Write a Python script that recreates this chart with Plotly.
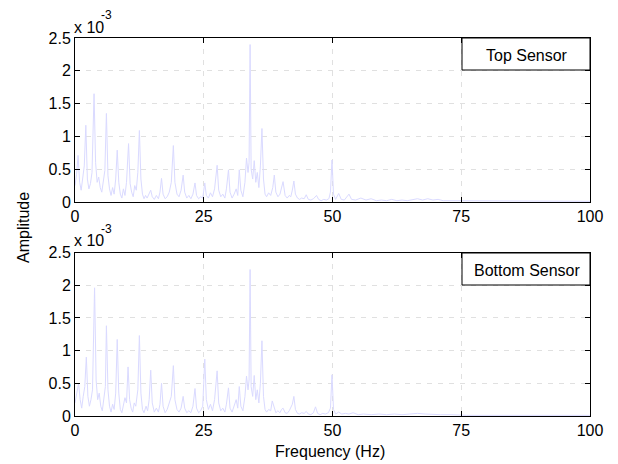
import plotly.graph_objects as go

# ---------------- data (amplitudes in units of 1e-3) ----------------
f_top = [0.0, 0.3, 0.6, 0.9, 1.2, 1.5, 1.8, 2.1, 2.4, 2.7, 3.0, 3.3, 3.7, 4.0, 4.3, 4.6, 4.9, 5.2, 5.5, 5.8,
         6.1, 6.4, 6.7, 7.0, 7.3, 7.6, 7.9, 8.2, 8.5, 8.8, 9.1, 9.4, 9.7, 10.0, 10.4, 10.7, 11.0, 11.3, 11.6, 11.9,
         12.2, 12.5, 12.8, 13.1, 13.4, 13.7, 14.0, 14.4, 14.7, 15.0, 15.4, 15.8, 16.2, 16.5, 16.8, 17.1, 17.5, 17.9,
         18.3, 18.7, 19.1, 19.4, 19.8, 20.2, 20.6, 21.0, 21.3, 21.7, 22.1, 22.5, 22.9, 23.3, 23.6, 24.0, 24.4, 24.8,
         25.2, 25.5, 25.9, 26.3, 26.7, 27.1, 27.6, 27.9, 28.3, 28.7, 29.1, 29.4, 29.8, 30.1, 30.5, 30.9, 31.3, 31.6,
         31.9, 32.2, 32.6, 33.0, 33.3, 33.6, 33.8, 34.0, 34.2, 34.5, 34.8, 35.1, 35.4, 35.7, 36.0, 36.3, 36.6, 36.9,
         37.2, 37.6, 38.0, 38.4, 38.7, 39.0, 39.4, 39.8, 40.1, 40.4, 40.8, 41.2, 41.6, 41.9, 42.2, 42.5, 42.8, 43.2,
         43.6, 44.0, 44.5, 44.9, 45.3, 45.8, 46.3, 46.9, 47.3, 47.8, 48.3, 48.8, 49.3, 49.6, 49.9, 50.2, 50.6, 51.2,
         51.7, 52.3, 53.2, 53.7, 54.5, 55.5, 56.5, 57.5, 58.5, 59.5, 60.5, 61.5, 62.5, 63.5, 64.5, 65.5, 66.5, 67.5,
         68.5, 69.5, 70.5, 71.5, 72.5, 74.0, 76.0, 80.0, 85.0, 90.0, 95.0, 100.0]
amp_top = [0.25, 0.42, 0.71, 0.30, 0.18, 0.40, 0.55, 1.17, 0.35, 0.20, 0.28, 0.45, 1.65, 0.60, 0.30, 0.38, 0.22, 0.15, 0.30, 0.48,
           1.35, 0.40, 0.20, 0.10, 0.22, 0.12, 0.35, 0.79, 0.30, 0.12, 0.06, 0.20, 0.10, 0.30, 0.89, 0.28, 0.15, 0.08, 0.25, 0.18,
           0.45, 1.09, 0.35, 0.12, 0.05, 0.10, 0.06, 0.12, 0.18, 0.08, 0.04, 0.10, 0.05, 0.15, 0.36, 0.12, 0.05, 0.08,
           0.15, 0.30, 0.86, 0.30, 0.12, 0.08, 0.18, 0.41, 0.15, 0.06, 0.10, 0.05, 0.12, 0.29, 0.10, 0.05, 0.08, 0.06,
           0.29, 0.10, 0.06, 0.14, 0.08, 0.20, 0.56, 0.18, 0.08, 0.12, 0.06, 0.20, 0.49, 0.15, 0.06, 0.12, 0.20, 0.10,
           0.49, 0.18, 0.08, 0.30, 0.67, 0.45, 0.60, 2.40, 0.50, 0.35, 0.63, 0.30, 0.45, 0.22, 0.55, 1.12, 0.35, 0.12,
           0.08, 0.14, 0.10, 0.22, 0.41, 0.15, 0.08, 0.12, 0.20, 0.31, 0.10, 0.06, 0.10, 0.08, 0.18, 0.32, 0.12, 0.06,
           0.04, 0.06, 0.05, 0.11, 0.04, 0.03, 0.05, 0.10, 0.04, 0.02, 0.04, 0.03, 0.05, 0.15, 0.64, 0.12, 0.04, 0.13,
           0.04, 0.03, 0.12, 0.04, 0.03, 0.06, 0.03, 0.05, 0.02, 0.03, 0.02, 0.04, 0.02, 0.03, 0.02, 0.04, 0.05, 0.03,
           0.05, 0.03, 0.04, 0.02, 0.02, 0.02, 0.01, 0.01, 0.01, 0.01, 0.01, 0.01]

f_bot = [0.0, 0.3, 0.7, 1.0, 1.3, 1.6, 1.9, 2.2, 2.5, 2.8, 3.1, 3.4, 3.8, 4.1, 4.4, 4.7, 5.0, 5.3, 5.6, 5.9,
         6.1, 6.4, 6.7, 7.0, 7.3, 7.6, 7.9, 8.2, 8.5, 8.8, 9.1, 9.4, 9.7, 10.0, 10.3, 10.6, 10.9, 11.2, 11.5, 11.8,
         12.2, 12.5, 12.8, 13.1, 13.4, 13.8, 14.1, 14.4, 14.7, 15.0, 15.4, 15.8, 16.2, 16.5, 16.8, 17.1, 17.5, 17.9,
         18.3, 18.7, 19.1, 19.4, 19.8, 20.2, 20.6, 21.0, 21.3, 21.7, 22.1, 22.5, 22.9, 23.3, 23.6, 24.0, 24.4, 24.8,
         25.2, 25.5, 25.9, 26.3, 26.7, 27.1, 27.6, 27.9, 28.3, 28.7, 29.1, 29.4, 29.8, 30.1, 30.5, 30.9, 31.3, 31.6,
         31.9, 32.2, 32.6, 33.0, 33.3, 33.6, 33.8, 34.0, 34.2, 34.5, 34.8, 35.1, 35.4, 35.7, 36.0, 36.3, 36.6, 36.9,
         37.2, 37.6, 38.0, 38.3, 38.7, 39.0, 39.4, 39.8, 40.1, 40.4, 40.8, 41.2, 41.6, 41.9, 42.2, 42.5, 42.8, 43.2,
         43.6, 44.0, 44.5, 44.9, 45.3, 45.8, 46.3, 46.7, 47.1, 47.6, 48.1, 48.6, 49.2, 49.6, 49.9, 50.2, 50.6, 51.2,
         51.8, 52.5, 53.2, 54.0, 55.0, 56.0, 57.5, 59.0, 60.5, 62.0, 63.5, 65.0, 66.5, 68.0, 69.5, 71.0, 73.0, 76.0,
         80.0, 85.0, 90.0, 95.0, 100.0]
amp_bot = [0.20, 0.35, 0.50, 0.25, 0.12, 0.30, 0.45, 0.90, 0.30, 0.15, 0.25, 0.40, 1.96, 0.55, 0.25, 0.35, 0.15, 0.08, 0.25, 0.45,
           1.38, 0.40, 0.15, 0.06, 0.18, 0.10, 0.35, 1.17, 0.35, 0.10, 0.05, 0.18, 0.28, 0.20, 0.75, 0.25, 0.12, 0.06, 0.20, 0.15,
           0.40, 1.23, 0.35, 0.10, 0.05, 0.15, 0.08, 0.25, 0.70, 0.20, 0.06, 0.12, 0.06, 0.18, 0.50, 0.15, 0.05, 0.10,
           0.20, 0.30, 0.77, 0.25, 0.10, 0.06, 0.12, 0.30, 0.12, 0.05, 0.08, 0.05, 0.15, 0.42, 0.12, 0.05, 0.08, 0.15,
           0.87, 0.25, 0.10, 0.18, 0.08, 0.25, 0.69, 0.20, 0.08, 0.12, 0.06, 0.18, 0.43, 0.12, 0.06, 0.15, 0.25, 0.12,
           0.45, 0.15, 0.08, 0.30, 0.61, 0.40, 0.55, 2.24, 0.45, 0.30, 0.62, 0.25, 0.40, 0.20, 0.50, 1.15, 0.30, 0.10,
           0.06, 0.10, 0.08, 0.23, 0.10, 0.05, 0.08, 0.05, 0.10, 0.12, 0.05, 0.04, 0.08, 0.12, 0.18, 0.30, 0.10, 0.04,
           0.03, 0.05, 0.04, 0.07, 0.03, 0.02, 0.05, 0.14, 0.04, 0.02, 0.04, 0.03, 0.05, 0.12, 0.63, 0.10, 0.03, 0.06,
           0.03, 0.04, 0.03, 0.05, 0.02, 0.03, 0.02, 0.03, 0.02, 0.03, 0.02, 0.03, 0.04, 0.03, 0.02, 0.02, 0.02, 0.01,
           0.01, 0.01, 0.01, 0.01, 0.01]

SCALE = 1e-3
x_ticks = [0, 25, 50, 75, 100]
y_tick_labels = ["0", "0.5", "1", "1.5", "2", "2.5"]
y_ticks = [0, 0.5e-3, 1.0e-3, 1.5e-3, 2.0e-3, 2.5e-3]
legend_labels = ["Top Sensor", "Bottom Sensor"]

# ---------------- layout helpers (pixel geometry) ----------------
W, H = 618, 464
L, R, T, B = 75, 590, 38, 416          # plot area in px
def px(xp):
    return (xp - L) / (R - L)
def py(yp):
    return (B - yp) / (B - T)

top_dom = [py(202), 1.0]
bot_dom = [0.0, py(252.5)]

line_color = "#dadaff"
fig = go.Figure()
fig.add_trace(go.Scatter(x=f_top, y=[a * SCALE for a in amp_top], mode="lines",
                         line=dict(color=line_color, width=1), xaxis="x", yaxis="y",
                         showlegend=False, name=legend_labels[0]))
fig.add_trace(go.Scatter(x=f_bot, y=[a * SCALE for a in amp_bot], mode="lines",
                         line=dict(color=line_color, width=1), xaxis="x2", yaxis="y2",
                         showlegend=False, name=legend_labels[1]))

FAM = "Liberation Sans, Arial, sans-serif"
font = dict(family=FAM, size=16, color="black")
sup_font = dict(family=FAM, size=12, color="black")
common_x = dict(range=[0, 100], tickvals=x_ticks, ticks="inside", ticklen=5, tickcolor="black",
                showline=True, linecolor="black", linewidth=1, mirror="ticks",
                showgrid=True, gridcolor="#e0e0e0", griddash="5px,6px", gridwidth=1,
                zeroline=False, tickfont=font)
common_y = dict(range=[0, 2.5e-3], tickvals=y_ticks, ticktext=y_tick_labels, ticks="inside", ticklen=5,
                tickcolor="black", showline=True, linecolor="black", linewidth=1, mirror="ticks",
                showgrid=True, gridcolor="#e0e0e0", griddash="5px,6px", gridwidth=1,
                zeroline=False, tickfont=font)

fig.update_layout(
    width=W, height=H, margin=dict(l=L, r=W - R, t=T, b=H - B, pad=0),
    paper_bgcolor="white", plot_bgcolor="white", font=font, showlegend=False,
    xaxis=dict(domain=[0, 1], anchor="y", **common_x),
    yaxis=dict(domain=top_dom, anchor="x", **common_y),
    xaxis2=dict(domain=[0, 1], anchor="y2", **common_x),
    yaxis2=dict(domain=bot_dom, anchor="x2", **common_y),
)

ann = []
# exponent labels ("x 10" with a raised "-3")
for base_y in (27, 241):
    ann.append(dict(text="x 10", xref="paper", yref="paper", x=px(72), y=py(base_y),
                    xanchor="left", yanchor="middle", showarrow=False, font=font))
    ann.append(dict(text="-3", xref="paper", yref="paper", x=px(99), y=py(base_y - 12),
                    xanchor="left", yanchor="middle", showarrow=False, font=sup_font))
# axis titles
ann.append(dict(text="Amplitude", xref="paper", yref="paper", x=px(23), y=py(228), textangle=-90,
                xanchor="center", yanchor="middle", showarrow=False, font=font))
ann.append(dict(text="Frequency (Hz)", xref="paper", yref="paper", x=px(330), y=py(451),
                xanchor="center", yanchor="middle", showarrow=False, font=font))
# legend texts
ann.append(dict(text=legend_labels[0], xref="paper", yref="paper", x=px(527), y=py(55),
                xanchor="center", yanchor="middle", showarrow=False, font=font))
ann.append(dict(text=legend_labels[1], xref="paper", yref="paper", x=px(527), y=py(270),
                xanchor="center", yanchor="middle", showarrow=False, font=font))
fig.update_layout(annotations=ann)

shapes = [
    dict(type="rect", xref="paper", yref="paper", x0=px(462), x1=px(590), y0=py(70), y1=py(38),
         line=dict(color="black", width=1), fillcolor="white", layer="above"),
    dict(type="rect", xref="paper", yref="paper", x0=px(462), x1=px(590), y0=py(285), y1=py(253),
         line=dict(color="black", width=1), fillcolor="white", layer="above"),
]
fig.update_layout(shapes=shapes)

fig.write_html("out.html")
